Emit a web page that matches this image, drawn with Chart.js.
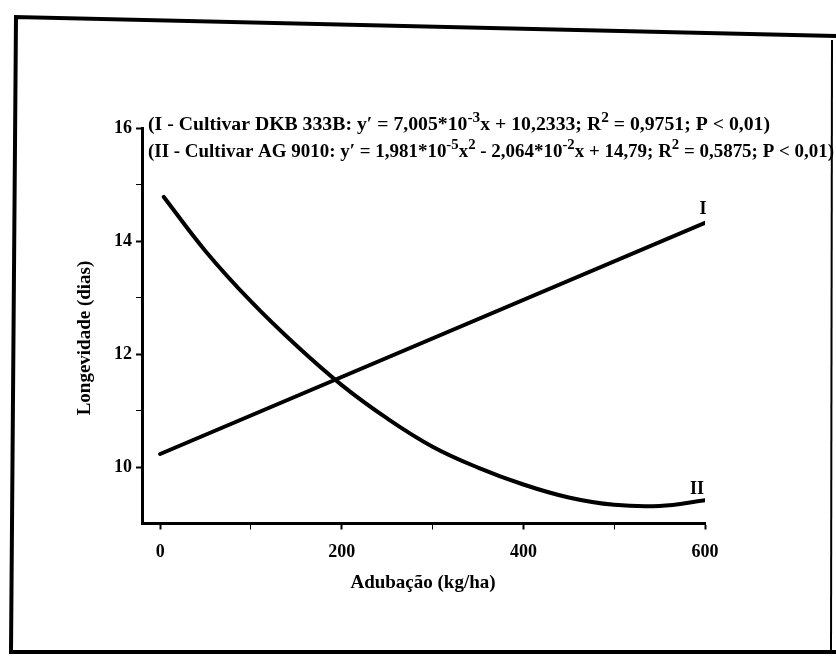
<!DOCTYPE html>
<html>
<head>
<meta charset="utf-8">
<script src="https://cdn.jsdelivr.net/npm/chart.js@4/dist/chart.umd.min.js"></script>
<style>
  html, body { margin: 0; padding: 0; background: #fff; }
  #wrap { width: 836px; height: 661px; position: relative; }
</style>
</head>
<body>
<div id="wrap"><canvas id="c" width="836" height="661"></canvas></div>
<script>
// Adubação (kg/ha) and longevity (dias) for the two cultivars
const doseI = [0, 600];
const longevidadeI = [10.23, 14.32];

const doseII = [4, 50, 100, 150, 200, 250, 300, 350, 400, 450, 500, 550, 600];
const longevidadeII = [14.78, 13.82, 12.93, 12.15, 11.45, 10.86, 10.36, 9.99, 9.69, 9.46, 9.33, 9.31, 9.41];

const xTicks = [0, 100, 200, 300, 400, 500, 600];
const xTickLabels = ['0', '', '200', '', '400', '', '600'];
const yTicks = [10, 11, 12, 13, 14, 15, 16];
const yTickLabels = ['10', '', '12', '', '14', '', '16'];

const seriesNames = ['I', 'II'];
const xTitle = 'Adubação (kg/ha)';
const yTitle = 'Longevidade (dias)';

// regression legends, split into runs so exponents can be raised
const equationI = [
  ['(I - Cultivar DKB 333B: y\u2032 = 7,005*10', false], ['-3', true],
  ['x + 10,2333; R', false], ['2', true], [' = 0,9751; P < 0,01)', false]
];
const equationII = [
  ['(II - Cultivar AG 9010: y\u2032 = 1,981*10', false], ['-5', true],
  ['x', false], ['2', true], [' - 2,064*10', false], ['-2', true],
  ['x + 14,79; R', false], ['2', true], [' = 0,5875; P < 0,01)', false]
];

const SERIF = '"Liberation Serif", "DejaVu Serif", serif';

function pts(xs, ys) { return xs.map((x, i) => ({ x: x, y: ys[i] })); }

function drawRuns(ctx, runs, x, y, size, targetWidth) {
  const base = 'bold ' + size + 'px ' + SERIF;
  const sup = 'bold ' + Math.round(size * 0.75) + 'px ' + SERIF;
  let w = 0;
  runs.forEach(r => { ctx.font = r[1] ? sup : base; w += ctx.measureText(r[0]).width; });
  const k = targetWidth ? targetWidth / w : 1;
  ctx.save();
  ctx.translate(x, y);
  ctx.scale(k, 1);
  let cx = 0;
  ctx.textBaseline = 'alphabetic';
  ctx.textAlign = 'left';
  runs.forEach(r => {
    ctx.font = r[1] ? sup : base;
    ctx.fillText(r[0], cx, r[1] ? -size * 0.42 : 0);
    cx += ctx.measureText(r[0]).width;
  });
  ctx.restore();
}

const decorations = {
  id: 'decorations',
  beforeDraw(chart) {
    const ctx = chart.ctx;
    ctx.save();
    ctx.fillStyle = '#fff';
    ctx.fillRect(0, 0, chart.width, chart.height);
    ctx.restore();
  },
  afterDraw(chart) {
    const ctx = chart.ctx;
    const xs = chart.scales.x, ys = chart.scales.y;
    ctx.save();
    ctx.fillStyle = '#000';
    ctx.strokeStyle = '#000';

    // outer frame
    ctx.lineWidth = 4;
    ctx.beginPath();
    ctx.moveTo(836, 36);
    ctx.lineTo(16, 17);
    ctx.lineTo(11, 652);
    ctx.lineTo(836, 652);
    ctx.stroke();
    ctx.lineWidth = 2;
    ctx.beginPath();
    ctx.moveTo(832, 40);
    ctx.lineTo(831, 652);
    ctx.stroke();

    // regression equations
    drawRuns(ctx, equationI, 148, 130, 18, 622);
    drawRuns(ctx, equationII, 148, 157, 18, 686);

    // axis titles
    ctx.font = 'bold 19px ' + SERIF;
    ctx.textAlign = 'center';
    ctx.textBaseline = 'middle';
    ctx.fillText(xTitle, 423, 583);
    ctx.save();
    ctx.translate(85, 338);
    ctx.rotate(-Math.PI / 2);
    ctx.fillText(yTitle, 0, 0);
    ctx.restore();

    // curve identifiers next to the line ends
    ctx.font = 'bold 18px ' + SERIF;
    chart.data.datasets.forEach((ds, i) => {
      const last = ds.data[ds.data.length - 1];
      const px = xs.getPixelForValue(last.x);
      const py = ys.getPixelForValue(last.y);
      if (i === 0) ctx.fillText(seriesNames[0], px - 2, py - 14);
      else ctx.fillText(seriesNames[1], px - 8, py - 11);
    });
    ctx.restore();
  }
};

new Chart(document.getElementById('c'), {
  type: 'line',
  data: {
    datasets: [
      { label: seriesNames[0], data: pts(doseI, longevidadeI), borderColor: '#000',
        borderWidth: 4, pointRadius: 0, tension: 0, borderCapStyle: 'round' },
      { label: seriesNames[1], data: pts(doseII, longevidadeII), borderColor: '#000',
        borderWidth: 4, pointRadius: 0, tension: 0.4, borderCapStyle: 'round' }
    ]
  },
  options: {
    responsive: false,
    animation: false,
    events: [],
    layout: { padding: { top: 128, right: 131, left: 0, bottom: 0 } },
    plugins: { legend: { display: false }, tooltip: { enabled: false } },
    scales: {
      x: {
        type: 'linear', min: -20, max: 600,
        afterBuildTicks: s => { s.ticks = xTicks.map(v => ({ value: v })); },
        afterFit: s => { s.height = 137.5; },
        ticks: {
          color: '#000', padding: 12, maxRotation: 0, autoSkip: false,
          font: { family: SERIF, weight: 'bold', size: 18 },
          callback: (v) => { const i = xTicks.indexOf(v); return i >= 0 ? xTickLabels[i] : ''; }
        },
        grid: { drawOnChartArea: false, drawTicks: true, tickLength: 6, tickColor: '#000',
                tickWidth: c => (c.tick && c.tick.value % 200 === 0 ? 2 : 1) },
        border: { color: '#000', width: 3 }
      },
      y: {
        type: 'linear', min: 9, max: 16,
        afterBuildTicks: s => { s.ticks = yTicks.map(v => ({ value: v })); },
        afterFit: s => { s.width = 142; },
        ticks: {
          color: '#000', padding: 4, autoSkip: false,
          font: { family: SERIF, weight: 'bold', size: 18 },
          callback: (v) => { const i = yTicks.indexOf(v); return i >= 0 ? yTickLabels[i] : ''; }
        },
        grid: { drawOnChartArea: false, drawTicks: true, tickLength: 6, tickColor: '#000',
                tickWidth: c => (c.tick && c.tick.value % 2 === 0 ? 2 : 1) },
        border: { color: '#000', width: 3 }
      }
    }
  },
  plugins: [decorations]
});
</script>
</body>
</html>
